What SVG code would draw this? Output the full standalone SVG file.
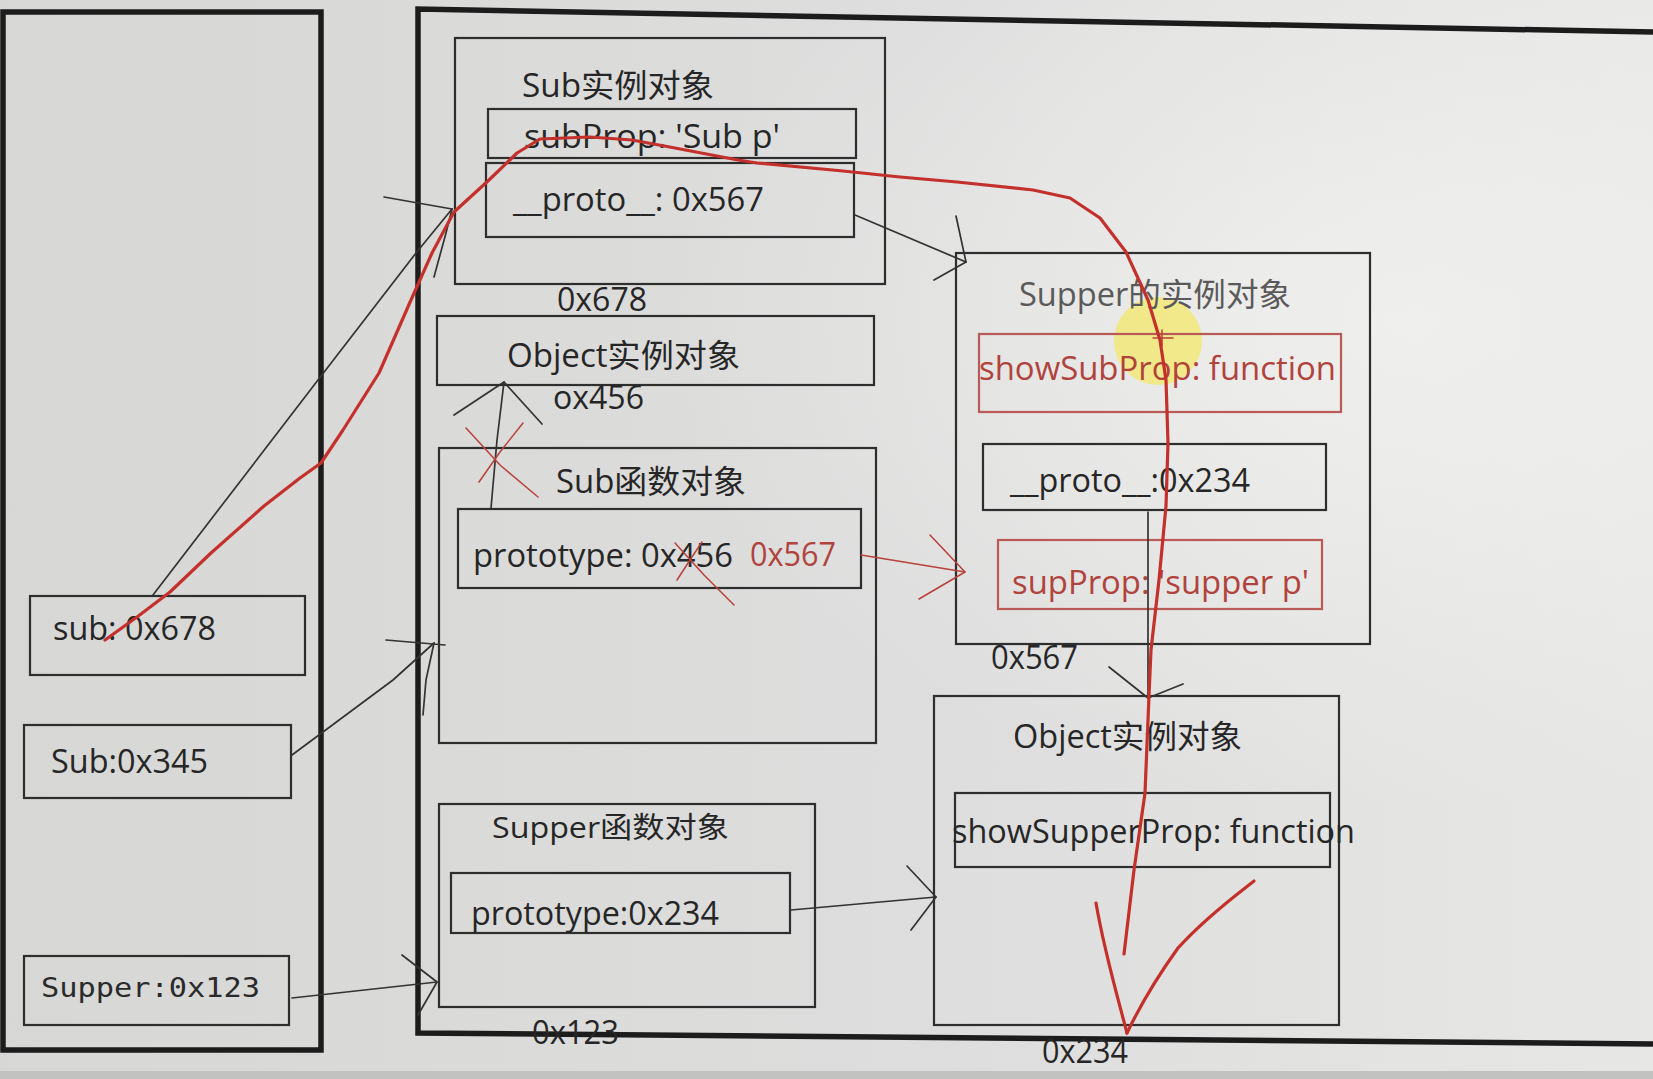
<svg xmlns="http://www.w3.org/2000/svg" width="1653" height="1079" viewBox="0 0 1653 1079">
<style>
  .t{font-family:"Open Sans","Noto Sans CJK SC",sans-serif;font-size:32px;fill:#262626}
  .tr{font-family:"Open Sans","Noto Sans CJK SC",sans-serif;font-size:32px;fill:#b0433c}
  .tg{font-family:"Open Sans","Noto Sans CJK SC",sans-serif;font-size:32px;fill:#5a5a5a}
  .mono{font-family:"DejaVu Sans Mono","Liberation Mono",monospace;font-size:27px;fill:#2a2a2a}
  .box{fill:none;stroke:#2e2e2e;stroke-width:2.2}
  .rbox{fill:none;stroke:#b85a55;stroke-width:2.2}
  .frame{fill:none;stroke:#1c1c1c;stroke-width:5.5}
  .ln{fill:none;stroke:#333;stroke-width:1.7;stroke-linecap:round;stroke-linejoin:round}
  .rl{fill:none;stroke:#b8413a;stroke-width:1.5;stroke-linecap:round;stroke-linejoin:round}
  .red{fill:none;stroke:#c4302b;stroke-width:3.2;stroke-linecap:round;stroke-linejoin:round}
</style>
<defs>
  <linearGradient id="bg" x1="0" y1="0" x2="1" y2="0">
    <stop offset="0" stop-color="#d7d7d5"/>
    <stop offset="0.6" stop-color="#dedede"/>
    <stop offset="1" stop-color="#e7e7e5"/>
  </linearGradient>
  <radialGradient id="glow" cx="0.85" cy="0.3" r="0.45">
    <stop offset="0" stop-color="#f2f2f0" stop-opacity="0.8"/>
    <stop offset="1" stop-color="#f2f2f0" stop-opacity="0"/>
  </radialGradient>
</defs>
<rect width="1653" height="1079" fill="url(#bg)"/>
<rect width="1653" height="1079" fill="url(#glow)"/>
<rect x="0" y="1071" width="1653" height="8" fill="#c2c2c0"/>

<g id="stack">
  <rect class="frame" x="3" y="12" width="318" height="1038"/>
</g>
<g id="heap">
  <path class="frame" d="M1653,32 L418,9 L418,1033 L1653,1044"/>
</g>

<!-- highlight -->
<circle cx="1158" cy="341" r="44" fill="#f3e86a" opacity="0.75"/>

<g id="node-sub-var">
  <rect class="box" x="30" y="596" width="275" height="79"/>
  <text class="t" x="53" y="640" textLength="163" lengthAdjust="spacingAndGlyphs">sub: 0x678</text>
</g>
<g id="node-Sub-var">
  <rect class="box" x="24" y="725" width="267" height="73"/>
  <text class="t" x="51" y="773" textLength="157" lengthAdjust="spacingAndGlyphs">Sub:0x345</text>
</g>
<g id="node-Supper-var">
  <rect class="box" x="24" y="956" width="265" height="69"/>
  <text class="mono" x="41" y="997" textLength="219" lengthAdjust="spacingAndGlyphs">Supper:0x123</text>
</g>

<g id="node-sub-instance">
  <rect class="box" x="455" y="38" width="430" height="246"/>
  <text class="t" x="522" y="97" textLength="192" lengthAdjust="spacingAndGlyphs">Sub实例对象</text>
  <rect class="box" x="488" y="109" width="368" height="49"/>
  <text class="t" x="524" y="148" textLength="256" lengthAdjust="spacingAndGlyphs">subProp: 'Sub p'</text>
  <rect class="box" x="486" y="163" width="368" height="74"/>
  <text class="t" x="513" y="211" textLength="251" lengthAdjust="spacingAndGlyphs">__proto__: 0x567</text>
  <text class="t" x="557" y="311" textLength="90" lengthAdjust="spacingAndGlyphs">0x678</text>
</g>

<g id="node-object-instance-1">
  <rect class="box" x="437" y="316" width="437" height="69"/>
  <text class="t" x="507" y="367" textLength="233" lengthAdjust="spacingAndGlyphs">Object实例对象</text>
  <text class="t" x="553" y="409" textLength="91" lengthAdjust="spacingAndGlyphs">ox456</text>
</g>

<g id="node-sub-function">
  <rect class="box" x="439" y="448" width="437" height="295"/>
  <text class="t" x="556" y="493" textLength="190" lengthAdjust="spacingAndGlyphs">Sub函数对象</text>
  <rect class="box" x="458" y="509" width="403" height="79"/>
  <text class="t" x="473" y="567" textLength="260" lengthAdjust="spacingAndGlyphs">prototype: 0x456</text>
  <text class="tr" x="750" y="566" textLength="86" lengthAdjust="spacingAndGlyphs">0x567</text>
</g>

<g id="node-supper-function">
  <rect class="box" x="439" y="804" width="376" height="203"/>
  <text class="t" x="492" y="838" style="font-size:29px" textLength="237" lengthAdjust="spacingAndGlyphs">Supper函数对象</text>
  <rect class="box" x="451" y="873" width="339" height="60"/>
  <text class="t" x="471" y="925" textLength="248" lengthAdjust="spacingAndGlyphs">prototype:0x234</text>
  <text class="t" x="532" y="1044" textLength="87" lengthAdjust="spacingAndGlyphs">0x123</text>
</g>

<g id="node-supper-instance">
  <rect class="box" x="956" y="253" width="414" height="391"/>
  <text class="tg" x="1019" y="306" textLength="272" lengthAdjust="spacingAndGlyphs">Supper的实例对象</text>
  <rect class="rbox" x="979" y="334" width="362" height="78"/>
  <text class="tr" x="979" y="380" textLength="357" lengthAdjust="spacingAndGlyphs">showSubProp: function</text>
  <rect class="box" x="983" y="444" width="343" height="66"/>
  <text class="t" x="1010" y="492" textLength="240" lengthAdjust="spacingAndGlyphs">__proto__:0x234</text>
  <rect class="rbox" x="998" y="540" width="324" height="69"/>
  <text class="tr" x="1012" y="594" textLength="297" lengthAdjust="spacingAndGlyphs">supProp: 'supper p'</text>
  <text class="t" x="991" y="669" textLength="87" lengthAdjust="spacingAndGlyphs">0x567</text>
</g>

<g id="node-object-instance-2">
  <rect class="box" x="934" y="696" width="405" height="329"/>
  <text class="t" x="1013" y="748" textLength="229" lengthAdjust="spacingAndGlyphs">Object实例对象</text>
  <rect class="box" x="955" y="793" width="375" height="74"/>
  <text class="t" x="952" y="843" textLength="403" lengthAdjust="spacingAndGlyphs">showSupperProp: function</text>
  <text class="t" x="1042" y="1063" textLength="86" lengthAdjust="spacingAndGlyphs">0x234</text>
</g>

<g id="connectors">
  <!-- sub -> Sub instance -->
  <polyline class="ln" points="153,595 318,380 416,253 452,209"/>
  <polyline class="ln" points="384,197 452,209"/>
  <polyline class="ln" points="434,277 446,233 452,209"/>
  <!-- Sub -> Sub function -->
  <polyline class="ln" points="292,755 393,680 434,643"/>
  <polyline class="ln" points="386,640 445,645"/>
  <polyline class="ln" points="434,643 426,680 423,715"/>
  <!-- Supper -> Supper function -->
  <polyline class="ln" points="292,998 437,982"/>
  <polyline class="ln" points="402,955 437,982 418,1015"/>
  <!-- proto 0x567 -> Supper instance -->
  <polyline class="ln" points="855,215 966,262"/>
  <polyline class="ln" points="956,216 966,262 934,280"/>
  <!-- prototype 0x456 -> Object instance (crossed out) -->
  <polyline class="ln" points="491,508 497,440 504,382"/>
  <polyline class="ln" points="454,415 504,382 542,424"/>
  <!-- prototype 0x234 -> Object instance -->
  <polyline class="ln" points="791,910 936,897"/>
  <polyline class="ln" points="907,866 936,897 911,930"/>
  <!-- proto 0x234 -> Object instance -->
  <polyline class="ln" points="1148,512 1148,698"/>
  <polyline class="ln" points="1109,667 1148,698 1183,684"/>
  <!-- red: prototype 0x567 -> Supper instance -->
  <polyline class="rl" points="861,555 965,572"/>
  <polyline class="rl" points="930,535 965,572 919,599"/>
  <!-- red crosses -->
  <polyline class="rl" points="466,428 500,465 538,497"/>
  <polyline class="rl" points="479,482 500,452 523,423"/>
  <polyline class="rl" points="675,543 704,575 734,605"/>
  <polyline class="rl" points="677,580 690,560 702,542"/>
  <polyline class="rl" points="1153,338 1173,338"/>
  <polyline class="rl" points="1162,330 1162,346"/>
  <!-- red lookup path -->
  <polyline class="red" points="105,640 137,617 170,592 211,553 264,506 300,478 321,463 343,430 379,373 411,300 432,253 454,212 489,180 517,153 540,139 590,137 632,140 675,148 738,160 757,163 843,171 900,177 957,182 1033,190 1070,198 1100,218 1126,252 1148,300 1160,340 1166,380 1168,443 1166,506 1159,580 1151,650 1149,696 1145,793 1134,870 1124,954"/>
  <path class="red" d="M1096,903 C1104,950 1117,995 1127,1033"/>
  <path class="red" d="M1254,881 C1236,895 1205,918 1178,948 C1155,980 1138,1010 1127,1033"/>
</g>
</svg>
